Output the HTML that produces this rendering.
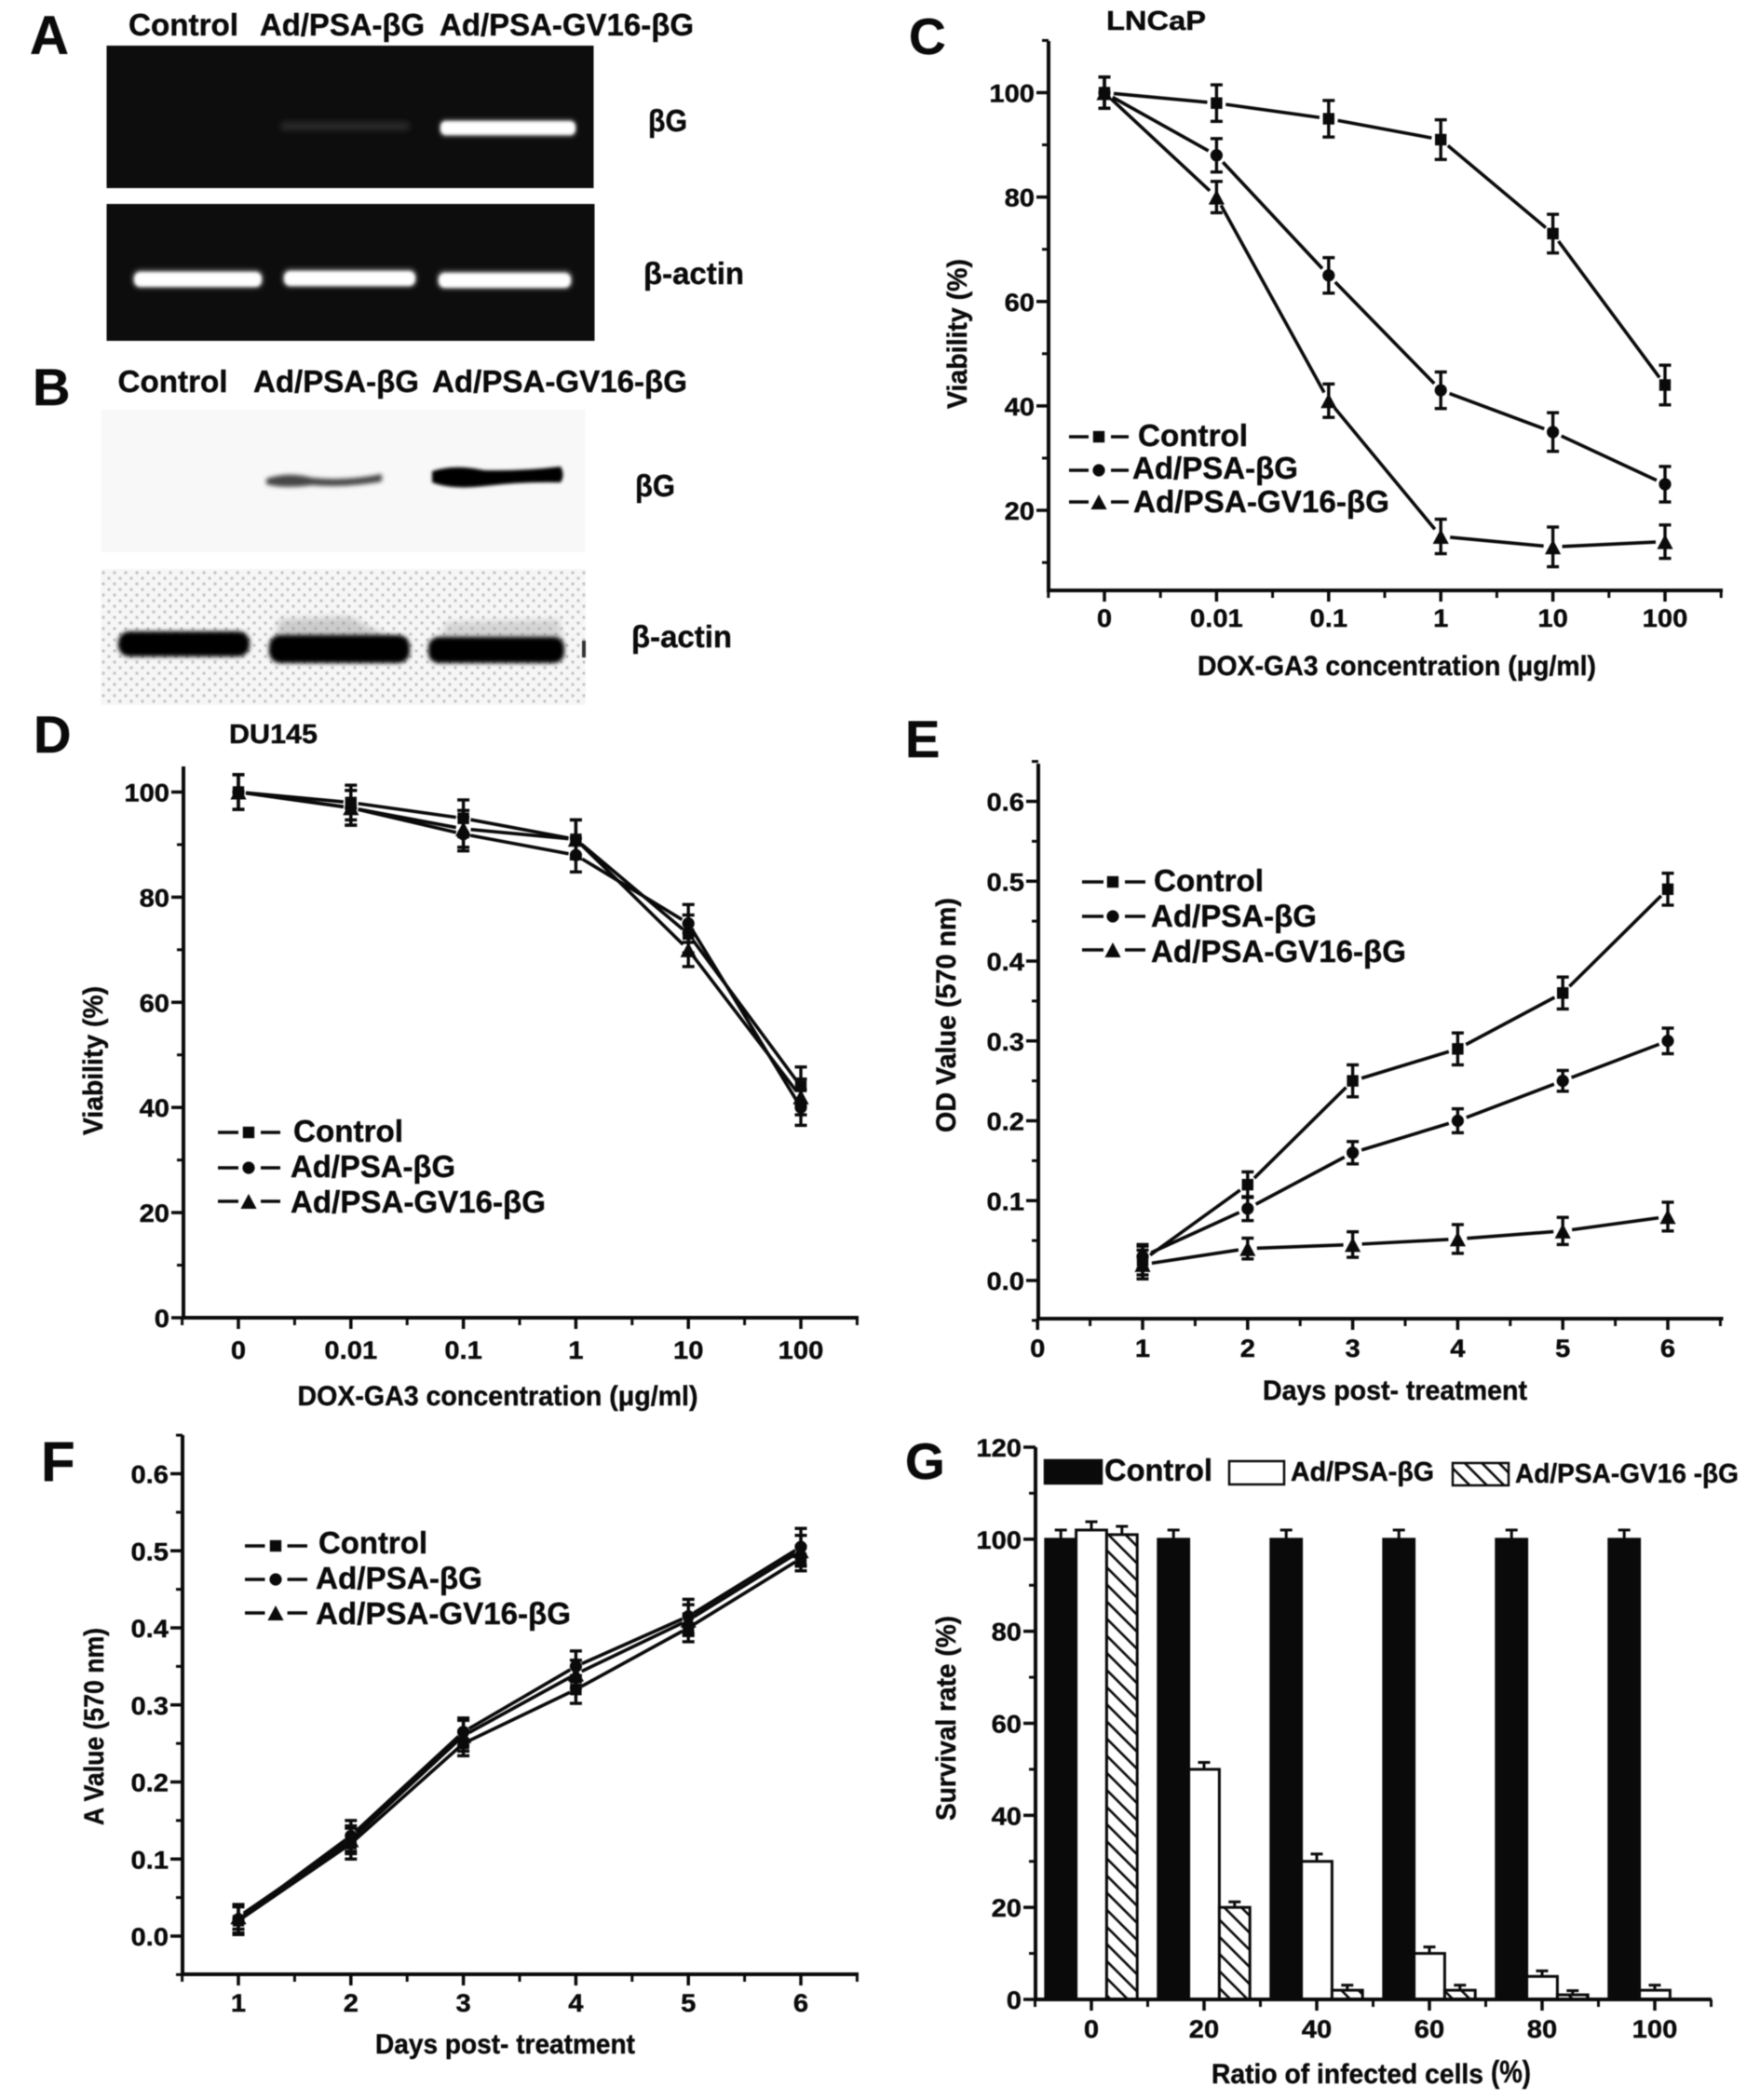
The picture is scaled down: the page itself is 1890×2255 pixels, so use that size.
<!DOCTYPE html>
<html lang="en">
<head>
<meta charset="utf-8">
<title>Ad/PSA-βG and Ad/PSA-GV16-βG figure</title>
<style>
  html, body { margin: 0; padding: 0; background: #fff; }
  svg { display: block; filter: blur(0.5px); }
  text { font-family: "Liberation Sans", "DejaVu Sans", sans-serif; font-weight: bold; fill: #0a0a0a; stroke: #0a0a0a; stroke-width: 0.4px; }
</style>
</head>
<body>
<svg id="figure" xmlns="http://www.w3.org/2000/svg" width="1890" height="2255" viewBox="0 0 1890 2255">
  <defs>
    <filter id="blur1" x="-20%" y="-100%" width="140%" height="300%"><feGaussianBlur stdDeviation="1.6"/></filter>
    <filter id="blur2" x="-20%" y="-100%" width="140%" height="300%"><feGaussianBlur stdDeviation="2.4"/></filter>
    <filter id="blur3" x="-20%" y="-100%" width="140%" height="300%"><feGaussianBlur stdDeviation="3.5"/></filter>
    <filter id="blur6" x="-30%" y="-100%" width="160%" height="300%"><feGaussianBlur stdDeviation="6"/></filter>
    <pattern id="hatch" patternUnits="userSpaceOnUse" width="13" height="13" patternTransform="rotate(-45)">
      <rect width="13" height="13" fill="#fff"/>
      <rect x="0" y="0" width="2.6" height="13" fill="#0a0a0a"/>
    </pattern>
    <pattern id="dots" patternUnits="userSpaceOnUse" width="12" height="12">
      <rect width="12" height="12" fill="#f6f6f6"/>
      <circle cx="3" cy="3" r="1.7" fill="#c6c6c6"/>
      <circle cx="9" cy="9" r="1.7" fill="#c6c6c6"/>
    </pattern>
  </defs>

  <!-- Panel A -->
  <g>
    <text x="32" y="58" font-size="58">A</text>
    <text x="138" y="38" font-size="33" textLength="118" lengthAdjust="spacingAndGlyphs">Control</text>
    <text x="279" y="38" font-size="33" textLength="177" lengthAdjust="spacingAndGlyphs">Ad/PSA-βG</text>
    <text x="472" y="38" font-size="33" textLength="273" lengthAdjust="spacingAndGlyphs">Ad/PSA-GV16-βG</text>
    <rect x="114.5" y="49" width="523" height="153" fill="#0d0d0d"/>
    <rect x="301" y="131" width="139" height="9" rx="4" fill="#2a2a2a" filter="url(#blur3)"/>
    <rect x="472" y="128" width="147" height="19" rx="6" fill="#555" filter="url(#blur2)"/>
    <rect x="473" y="130" width="145" height="15" rx="6" fill="#fff" filter="url(#blur1)"/>
    <rect x="114.5" y="219" width="524" height="147" fill="#0d0d0d"/>
    <rect x="142" y="289" width="141" height="21" rx="8" fill="#555" filter="url(#blur2)"/>
    <rect x="144" y="292" width="137" height="16" rx="7" fill="#fff" filter="url(#blur1)"/>
    <rect x="303" y="288" width="145" height="21" rx="8" fill="#555" filter="url(#blur2)"/>
    <rect x="305" y="291" width="141" height="16" rx="7" fill="#fff" filter="url(#blur1)"/>
    <rect x="469" y="290" width="146" height="21" rx="8" fill="#555" filter="url(#blur2)"/>
    <rect x="471" y="293" width="142" height="16" rx="7" fill="#fff" filter="url(#blur1)"/>
    <text x="696" y="141" font-size="33" textLength="42" lengthAdjust="spacingAndGlyphs">βG</text>
    <text x="691" y="305" font-size="33" textLength="108" lengthAdjust="spacingAndGlyphs">β-actin</text>
  </g>

  <!-- Panel B -->
  <g>
    <text x="35" y="435" font-size="56">B</text>
    <text x="126.5" y="421" font-size="33" textLength="118" lengthAdjust="spacingAndGlyphs">Control</text>
    <text x="272" y="421" font-size="33" textLength="178" lengthAdjust="spacingAndGlyphs">Ad/PSA-βG</text>
    <text x="464" y="421" font-size="33" textLength="274" lengthAdjust="spacingAndGlyphs">Ad/PSA-GV16-βG</text>
    <rect x="108.5" y="440" width="520" height="153" fill="#f8f8f8"/>
    <path d="M286 514 Q310 506 335 513 Q370 517 410 509 L410 517 Q370 524 335 521 Q305 525 286 520 Z" fill="#444" filter="url(#blur2)"/>
    <path d="M464 506 Q488 498 520 505 Q560 506 602 501 Q607 510 602 518 Q560 517 520 522 Q485 526 464 518 Z" fill="#050505" filter="url(#blur1)"/>
    <rect x="108.5" y="611" width="520" height="146" fill="url(#dots)"/>
    <path d="M295 690 L300 665 L375 662 L430 690 Z" fill="#999" opacity=".45" filter="url(#blur3)"/>
    <path d="M470 690 L480 668 L600 665 L605 690 Z" fill="#aaa" opacity=".45" filter="url(#blur3)"/>
    <rect x="127" y="678" width="141" height="27" rx="12" fill="#050505" filter="url(#blur2)"/>
    <rect x="289" y="682" width="151" height="30" rx="12" fill="#050505" filter="url(#blur2)"/>
    <rect x="460" y="684" width="146" height="28" rx="11" fill="#050505" filter="url(#blur2)"/>
    <rect x="625" y="688" width="4" height="18" fill="#333"/>
    <text x="682" y="533" font-size="33" textLength="43" lengthAdjust="spacingAndGlyphs">βG</text>
    <text x="678" y="695" font-size="33" textLength="108" lengthAdjust="spacingAndGlyphs">β-actin</text>
  </g>

  <!-- Panel letters and titles for plots -->
  <text x="976" y="58" font-size="55">C</text>
  <text x="1188" y="32" font-size="29" textLength="107" lengthAdjust="spacingAndGlyphs">LNCaP</text>
  <text x="36" y="808" font-size="56">D</text>
  <text x="246" y="798" font-size="29" textLength="95" lengthAdjust="spacingAndGlyphs">DU145</text>
  <text x="972" y="813" font-size="56">E</text>
  <text x="44" y="1590" font-size="60">F</text>
  <text x="972" y="1588" font-size="55">G</text>

  <!-- Axis titles -->
  <text x="1286" y="725" font-size="30" textLength="428" lengthAdjust="spacingAndGlyphs">DOX-GA3 concentration (μg/ml)</text>
  <text transform="translate(1038 439) rotate(-90)" font-size="30" textLength="161" lengthAdjust="spacingAndGlyphs">Viability (%)</text>
  <text x="319.5" y="1509" font-size="30" textLength="430" lengthAdjust="spacingAndGlyphs">DOX-GA3 concentration (μg/ml)</text>
  <text transform="translate(110 1219) rotate(-90)" font-size="30" textLength="160" lengthAdjust="spacingAndGlyphs">Viability (%)</text>
  <text x="1356" y="1503" font-size="30" textLength="284" lengthAdjust="spacingAndGlyphs">Days post- treatment</text>
  <text transform="translate(1026 1216) rotate(-90)" font-size="30" textLength="252" lengthAdjust="spacingAndGlyphs">OD Value (570 nm)</text>
  <text x="403" y="2205" font-size="30" textLength="279" lengthAdjust="spacingAndGlyphs">Days post- treatment</text>
  <text transform="translate(111 1960) rotate(-90)" font-size="30" textLength="212" lengthAdjust="spacingAndGlyphs">A Value (570 nm)</text>
  <text x="1301" y="2237" font-size="30" textLength="292" lengthAdjust="spacingAndGlyphs">Ratio of infected cells</text>
  <text x="1601" y="2236" font-size="33" textLength="43" lengthAdjust="spacingAndGlyphs">(%)</text>
  <text transform="translate(1026 1955) rotate(-90)" font-size="30" textLength="220" lengthAdjust="spacingAndGlyphs">Survival rate (%)</text>

  <g id="plots"></g>
</svg>

<script>
// Shared labels
var seriesNames = ['Control', 'Ad/PSA-βG', 'Ad/PSA-GV16-βG'];
var doseCategories = ['0', '0.01', '0.1', '1', '10', '100'];
var viabilityTicks = [20, 40, 60, 80, 100];
var viabilityTicksD = [0, 20, 40, 60, 80, 100];
var odTicks = [0, 0.1, 0.2, 0.3, 0.4, 0.5, 0.6];
var dayPositions = [1, 2, 3, 4, 5, 6];
var dayLabelsE = [0, 1, 2, 3, 4, 5, 6];
var dayLabelsF = [1, 2, 3, 4, 5, 6];
var dosePositions = [0, 1, 2, 3, 4, 5];

// Panel C: LNCaP viability
var cControl = [100, 98, 95, 91, 73, 44];
var cAd = [100, 88, 65, 43, 35, 25];
var cGv = [100, 80, 41, 15, 13, 14];
var cControlErr = [3, 3.5, 3.5, 3.8, 3.7, 3.8];
var cAdErr = [3, 3.2, 3.4, 3.5, 3.7, 3.4];
var cGvErr = [3, 3, 3.2, 3.3, 3.8, 3.2];

// Panel D: DU145 viability
var dControl = [100, 98, 95, 91, 73, 44];
var dAd = [100, 97, 92, 88, 75, 40];
var dGv = [100, 97, 93, 91, 70, 42];
var dControlErr = [3.3, 3.3, 3.5, 3.7, 3.6, 3.7];
var dAdErr = [3.3, 3.3, 3.2, 3.2, 3.6, 3.4];
var dGvErr = [3.3, 3.3, 3.5, 3.7, 3.2, 3.4];

// Panel E: OD value
var eControl = [0.025, 0.12, 0.25, 0.29, 0.36, 0.49];
var eAd = [0.03, 0.09, 0.16, 0.2, 0.25, 0.3];
var eGv = [0.02, 0.04, 0.045, 0.052, 0.062, 0.08];
var eControlErr = [0.018, 0.016, 0.02, 0.02, 0.02, 0.02];
var eAdErr = [0.015, 0.015, 0.014, 0.015, 0.013, 0.016];
var eGvErr = [0.018, 0.013, 0.016, 0.018, 0.017, 0.018];

// Panel F: A value
var fControl = [0.02, 0.12, 0.25, 0.32, 0.40, 0.49];
var fAd = [0.022, 0.13, 0.265, 0.35, 0.415, 0.505];
var fGv = [0.025, 0.125, 0.26, 0.34, 0.41, 0.50];
var fControlErr = [0.018, 0.02, 0.016, 0.018, 0.018, 0.016];
var fAdErr = [0.018, 0.02, 0.018, 0.02, 0.022, 0.024];
var fGvErr = [0.016, 0.018, 0.02, 0.018, 0.02, 0.02];

// Panel G: survival rate bars
var gCategories = ['0', '20', '40', '60', '80', '100'];
var gTicks = [0, 20, 40, 60, 80, 100, 120];
var gControl = [100, 100, 100, 100, 100, 100];
var gAd = [102, 50, 30, 10, 5, 2];
var gGv = [101, 20, 2, 2, 1, 0];
var gControlErr = [2, 2, 2, 2, 2, 2];
var gAdErr = [1.8, 1.5, 1.6, 1.4, 1.2, 1.1];
var gGvErr = [1.8, 1.2, 1.1, 1.1, 0.9, 0];

var SVG_NS = 'http://www.w3.org/2000/svg';
var plots = document.getElementById('plots');

function make(tag, attrs, parent) {
  var node = document.createElementNS(SVG_NS, tag);
  for (var key in attrs) { node.setAttribute(key, attrs[key]); }
  parent.appendChild(node);
  return node;
}

function segment(parent, x1, y1, x2, y2, width, name) {
  var seg = make('line', { x1: x1, y1: y1, x2: x2, y2: y2, stroke: '#0a0a0a', 'stroke-width': width }, parent);
  
  
  return seg;
}

function label(parent, x, y, str, size, anchor, sx, name) {
  var t = make('text', { transform: 'translate(' + x + ' ' + y + ') scale(' + sx + ' 1)', 'font-size': size, 'text-anchor': anchor }, parent);
  t.textContent = str;
  
  
  return t;
}

function linearScale(v0, p0, v1, p1) {
  return function (v) { return p0 + (v - v0) * (p1 - p0) / (v1 - v0); };
}

function marker(parent, kind, x, y, name) {
  var node;
  if (kind === 0) {
    node = make('rect', { x: x - 6.2, y: y - 6.2, width: 12.4, height: 12.4, fill: '#0a0a0a' }, parent);
  } else if (kind === 1) {
    node = make('circle', { cx: x, cy: y, r: 6.6, fill: '#0a0a0a' }, parent);
  } else {
    node = make('polygon', { points: (x - 8.6) + ',' + (y + 8) + ' ' + (x + 8.6) + ',' + (y + 8) + ' ' + x + ',' + (y - 8), fill: '#0a0a0a' }, parent);
  }
  
  
  return node;
}

// Draws both axes with major (labelled) and minor ticks.
function drawAxes(g, c, xScale, yScale, xLabels, xLabelPositions, yLabels, yFmt) {
  segment(g, c.axisX, c.top, c.axisX, c.bottom + 2, 4, c.id + '-y-axis');
  segment(g, c.axisX - 2, c.bottom, c.right + 2, c.bottom, 4, c.id + '-x-axis');

  var minorCount = Math.round((c.yMax - c.yMin) / c.yMinor);
  for (var k = 0; k <= minorCount; k++) {
    var v = c.yMin + k * c.yMinor;
    segment(g, c.axisX - 7, yScale(v), c.axisX, yScale(v), 3, c.id + '-y-minor-tick');
  }
  yLabels.forEach(function (v) {
    segment(g, c.axisX - 13, yScale(v), c.axisX, yScale(v), 3.5, c.id + '-y-major-tick');
    label(g, c.axisX - 15, yScale(v) + 10, yFmt(v), c.tickSize, 'end', c.tickStretch, c.id + '-y-tick-label');
  });

  for (var m = c.xMin; m <= c.xMax + 0.001; m += 0.5) {
    segment(g, xScale(m), c.bottom, xScale(m), c.bottom + 8, 3, c.id + '-x-minor-tick');
  }
  xLabelPositions.forEach(function (p, i) {
    segment(g, xScale(p), c.bottom, xScale(p), c.bottom + 12, 3.5, c.id + '-x-major-tick');
    label(g, xScale(p), c.bottom + c.xLabelDrop, String(xLabels[i]), c.tickSize, 'middle', c.tickStretch, c.id + '-x-tick-label');
  });
}

function drawLegend(g, c) {
  c.legendRows.forEach(function (row, i) {
    segment(g, c.legendX[0], row.lineY, c.legendX[1], row.lineY, 3.5, c.id + '-legend-line');
    segment(g, c.legendX[2], row.lineY, c.legendX[3], row.lineY, 3.5, c.id + '-legend-line');
    marker(g, i, c.legendMarkerX, row.lineY, c.id + '-legend-marker');
    var t = make('text', { x: row.textX, y: row.baseline, 'font-size': 33, textLength: row.textW, lengthAdjust: 'spacingAndGlyphs' }, g);
    t.textContent = seriesNames[i];
    
    
  });
}

function drawLineChart(c, xPositions, xLabels, xLabelPositions, yLabels, yFmt, series, errors) {
  var g = make('g', {}, plots);
  
  
  var xScale = linearScale(c.xRef[0], c.xRef[1], c.xRef[2], c.xRef[3]);
  var yScale = linearScale(c.yRef[0], c.yRef[1], c.yRef[2], c.yRef[3]);

  drawAxes(g, c, xScale, yScale, xLabels, xLabelPositions, yLabels, yFmt);

  series.forEach(function (vals, s) {
    var errs = errors[s];
    for (var i = 0; i + 1 < vals.length; i++) {
      var x1 = xScale(xPositions[i]), y1 = yScale(vals[i]);
      var x2 = xScale(xPositions[i + 1]), y2 = yScale(vals[i + 1]);
      var len = Math.sqrt((x2 - x1) * (x2 - x1) + (y2 - y1) * (y2 - y1));
      var ux = (x2 - x1) / len, uy = (y2 - y1) / len;
      segment(g, x1 + ux * c.gap, y1 + uy * c.gap, x2 - ux * c.gap, y2 - uy * c.gap, 3.6, c.id + '-series-' + s + '-line');
    }
    vals.forEach(function (v, i) {
      var x = xScale(xPositions[i]);
      var hi = yScale(v + errs[i]), lo = yScale(v - errs[i]);
      segment(g, x, hi, x, lo, 3.4, c.id + '-series-' + s + '-error-bar');
      segment(g, x - 6.5, hi, x + 6.5, hi, 3.4, c.id + '-series-' + s + '-error-cap');
      segment(g, x - 6.5, lo, x + 6.5, lo, 3.4, c.id + '-series-' + s + '-error-cap');
      marker(g, s, x, yScale(v), c.id + '-series-' + s + '-point');
    });
  });

  drawLegend(g, c);
}

function plainFmt(v) { return String(v); }
function oneDecimal(v) { return v.toFixed(1); }

drawLineChart({
  id: 'panel-c-chart', axisX: 1126, top: 44, bottom: 634, right: 1848,
  xRef: [0, 1186, 5, 1788], yRef: [100, 99.5, 20, 548],
  yMin: 10, yMax: 110, yMinor: 10, xMin: -0.5, xMax: 5.5,
  tickSize: 27, tickStretch: 1.08, xLabelDrop: 39, gap: 10,
  legendX: [1148, 1169, 1193, 1212], legendMarkerX: 1180,
  legendRows: [
    { lineY: 469, textX: 1222, baseline: 479, textW: 118 },
    { lineY: 505, textX: 1216, baseline: 514, textW: 178 },
    { lineY: 539, textX: 1217, baseline: 550, textW: 275 }
  ]
}, dosePositions, doseCategories, dosePositions, viabilityTicks, plainFmt,
   [cControl, cAd, cGv], [cControlErr, cAdErr, cGvErr]);

drawLineChart({
  id: 'panel-d-chart', axisX: 197, top: 823, bottom: 1415, right: 920,
  xRef: [0, 256, 5, 860], yRef: [100, 850.5, 0, 1415],
  yMin: 10, yMax: 100, yMinor: 10, xMin: -0.5, xMax: 5.5,
  tickSize: 27, tickStretch: 1.08, xLabelDrop: 44, gap: 8,
  legendX: [234, 256, 280, 301], legendMarkerX: 267,
  legendRows: [
    { lineY: 1216, textX: 315, baseline: 1226, textW: 118 },
    { lineY: 1254, textX: 312, baseline: 1264, textW: 177 },
    { lineY: 1290, textX: 312, baseline: 1302, textW: 274 }
  ]
}, dosePositions, doseCategories, dosePositions, viabilityTicksD, plainFmt,
   [dControl, dAd, dGv], [dControlErr, dAdErr, dGvErr]);

drawLineChart({
  id: 'panel-e-chart', axisX: 1115, top: 820, bottom: 1416, right: 1848.5,
  xRef: [1, 1227, 6, 1791], yRef: [0.6, 860.5, 0, 1375],
  yMin: -0.05, yMax: 0.65, yMinor: 0.05, xMin: 0, xMax: 6.5,
  tickSize: 27, tickStretch: 1.08, xLabelDrop: 41, gap: 10,
  legendX: [1162, 1185, 1208, 1230], legendMarkerX: 1195,
  legendRows: [
    { lineY: 947, textX: 1239, baseline: 957, textW: 118 },
    { lineY: 984, textX: 1236, baseline: 995, textW: 178 },
    { lineY: 1020, textX: 1236, baseline: 1033, textW: 274 }
  ]
}, dayPositions, dayLabelsE, dayLabelsE, odTicks, oneDecimal,
   [eControl, eAd, eGv], [eControlErr, eAdErr, eGvErr]);

drawLineChart({
  id: 'panel-f-chart', axisX: 196, top: 1541, bottom: 2120, right: 920,
  xRef: [1, 256, 6, 860], yRef: [0.6, 1582.5, 0, 2079],
  yMin: -0.05, yMax: 0.65, yMinor: 0.05, xMin: 0.5, xMax: 6.5,
  tickSize: 27, tickStretch: 1.08, xLabelDrop: 40, gap: 7,
  legendX: [263, 284.5, 308.6, 330], legendMarkerX: 296,
  legendRows: [
    { lineY: 1660, textX: 342, baseline: 1668, textW: 117 },
    { lineY: 1696, textX: 339, baseline: 1706, textW: 179 },
    { lineY: 1732, textX: 339, baseline: 1744, textW: 274 }
  ]
}, dayPositions, dayLabelsF, dayLabelsF, odTicks, oneDecimal,
   [fControl, fAd, fGv], [fControlErr, fAdErr, fGvErr]);

// Panel G: grouped bars
(function () {
  var c = {
    id: 'panel-g-chart', axisX: 1112, top: 1554, bottom: 2147, right: 1836,
    yMin: 10, yMax: 110, yMinor: 10, xMin: -0.5, xMax: 5.5,
    tickSize: 27, tickStretch: 1.08, xLabelDrop: 41
  };
  var g = make('g', {}, plots);
  
  
  var xScale = linearScale(0, 1172, 5, 1777);
  var yScale = linearScale(0, 2147, 120, 1554);
  var positions = dosePositions;
  var barW = 32.8;
  var fills = ['#0a0a0a', '#fff', 'url(#hatch)'];
  var barSeries = [gControl, gAd, gGv];
  var barErrors = [gControlErr, gAdErr, gGvErr];

  barSeries.forEach(function (vals, s) {
    vals.forEach(function (v, i) {
      var x = xScale(positions[i]) + (s - 1.5) * barW;
      var y = yScale(v);
      if (v > 0) {
        var err = barErrors[s][i];
        var cx = x + barW / 2;
        if (err > 0) {
          segment(g, cx, y, cx, yScale(v + err), 3, 'panel-g-series-' + s + '-error-bar');
          segment(g, cx - 6.5, yScale(v + err), cx + 6.5, yScale(v + err), 3, 'panel-g-series-' + s + '-error-cap');
        }
        var bar = make('rect', { x: x, y: y, width: barW, height: c.bottom - y, fill: fills[s], stroke: '#0a0a0a', 'stroke-width': 3 }, g);
        
        
      }
    });
  });

  drawAxes(g, c, xScale, yScale, gCategories, positions, gTicks, plainFmt);

  var swatches = [
    { x: 1122, y: 1568, w: 61, h: 25, textX: 1186, textW: 116, base: 1590, size: 33 },
    { x: 1320, y: 1569, w: 59, h: 25, textX: 1386, textW: 154, base: 1590, size: 29 },
    { x: 1560, y: 1571, w: 60, h: 24, textX: 1627, textW: 240, base: 1592, size: 29 }
  ];
  var legendNames = ['Control', 'Ad/PSA-βG', 'Ad/PSA-GV16 -βG'];
  swatches.forEach(function (sw, i) {
    var box = make('rect', { x: sw.x, y: sw.y, width: sw.w, height: sw.h, fill: fills[i], stroke: '#0a0a0a', 'stroke-width': 2.5 }, g);
    
    
    var t = make('text', { x: sw.textX, y: sw.base, 'font-size': sw.size, textLength: sw.textW, lengthAdjust: 'spacingAndGlyphs' }, g);
    t.textContent = legendNames[i];
    
    
  });
})();
</script>
</body>
</html>
